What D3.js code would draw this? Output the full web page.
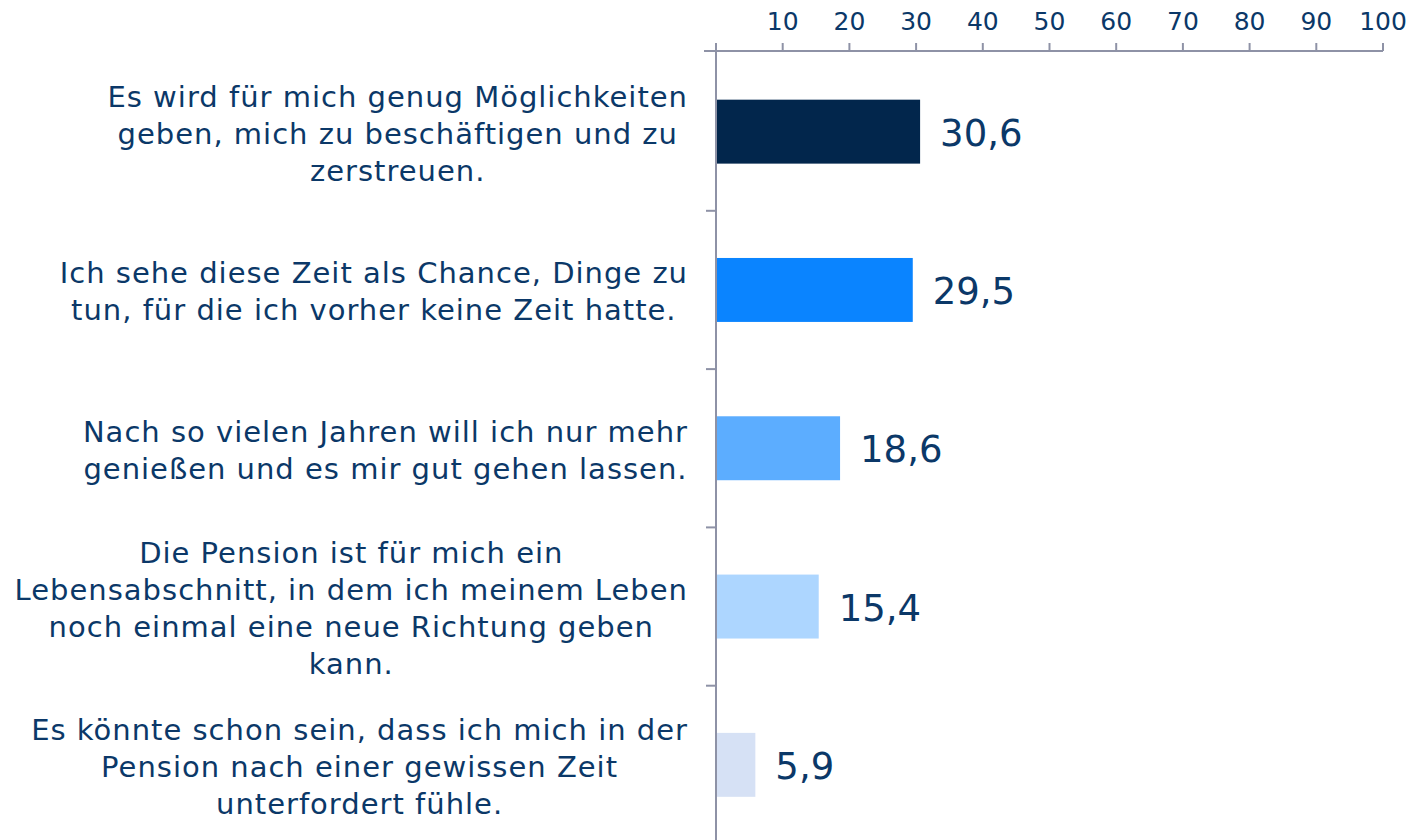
<!DOCTYPE html>
<html>
<head>
<meta charset="utf-8">
<script src="https://cdn.jsdelivr.net/npm/d3@7"></script>
<style>
  body { margin: 0; background: #fff; }
  svg { display: block; font-family: "DejaVu Sans", Verdana, sans-serif; }
</style>
</head>
<body>
<svg id="chart"></svg>
<script>
// data
const categories = [
  ["Es wird für mich genug Möglichkeiten", "geben, mich zu beschäftigen und zu", "zerstreuen."],
  ["Ich sehe diese Zeit als Chance, Dinge zu", "tun, für die ich vorher keine Zeit hatte."],
  ["Nach so vielen Jahren will ich nur mehr", "genießen und es mir gut gehen lassen."],
  ["Die Pension ist für mich ein", "Lebensabschnitt, in dem ich meinem Leben", "noch einmal eine neue Richtung geben", "kann."],
  ["Es könnte schon sein, dass ich mich in der", "Pension nach einer gewissen Zeit", "unterfordert fühle."]
]
const values = [30.6, 29.5, 18.6, 15.4, 5.9]
const valueLabels = ["30,6", "29,5", "18,6", "15,4", "5,9"]
const tickValues = [10, 20, 30, 40, 50, 60, 70, 80, 90, 100]
const barColors = ["#02264c", "#0a84ff", "#5cadff", "#add6ff", "#d6e1f5"]

const width = 1410
const height = 840
const textColor = "#0b3868"
const axisColor = "#8e92a6"

const svg = d3.select("#chart")
  .attr("width", width)
  .attr("height", height)

const x = d3.scaleLinear().domain([0, 100]).range([716, 1383])
const y = d3.scaleBand()
  .domain(d3.range(values.length))
  .range([52.5, 844])
  .paddingInner(0.596)
  .paddingOuter(0.298)

// top axis
svg.append("line")
  .attr("x1", 704).attr("x2", x(100))
  .attr("y1", 51).attr("y2", 51)
  .attr("stroke", axisColor).attr("stroke-width", 2)

svg.append("g")
  .selectAll("line")
  .data([0].concat(tickValues))
  .join("line")
    .attr("x1", d => x(d)).attr("x2", d => x(d))
    .attr("y1", 43).attr("y2", 51)
    .attr("stroke", axisColor).attr("stroke-width", 2)

svg.append("g")
  .selectAll("text")
  .data(tickValues)
  .join("text")
    .attr("x", d => x(d))
    .attr("y", 29.5)
    .attr("text-anchor", "middle")
    .attr("fill", textColor)
    .style("font-size", "25px")
    .text(d => d)

// left axis
svg.append("line")
  .attr("x1", 716).attr("x2", 716)
  .attr("y1", 51).attr("y2", height)
  .attr("stroke", axisColor).attr("stroke-width", 2)

const bandStep = y.step()
svg.append("g")
  .selectAll("line")
  .data(d3.range(1, values.length))
  .join("line")
    .attr("x1", 706).attr("x2", 716)
    .attr("y1", d => 52.5 + d * bandStep).attr("y2", d => 52.5 + d * bandStep)
    .attr("stroke", axisColor).attr("stroke-width", 2)

// bars
svg.append("g")
  .selectAll("rect")
  .data(values)
  .join("rect")
    .attr("x", x(0) + 1)
    .attr("y", (d, i) => y(i))
    .attr("width", d => x(d) - x(0) - 1)
    .attr("height", y.bandwidth())
    .attr("fill", (d, i) => barColors[i])

// value labels
svg.append("g")
  .selectAll("text")
  .data(values)
  .join("text")
    .attr("x", d => x(d) + 20)
    .attr("y", (d, i) => y(i) + y.bandwidth() / 2 + 14)
    .attr("fill", textColor)
    .style("font-size", "37px")
    .text((d, i) => valueLabels[i])

// category labels, centred per block, right edge at 688
const lineH = 37
const labelGroups = svg.append("g")
  .selectAll("text")
  .data(categories)
  .join("text")
    .attr("fill", textColor)
    .attr("text-anchor", "middle")
    .style("font-size", "29px")
    .style("letter-spacing", "1px")

labelGroups.each(function (lines, i) {
  const t = d3.select(this)
  const cy = y(i) + y.bandwidth() / 2
  const top = cy - (lines.length - 1) * lineH / 2 + 12
  lines.forEach((l, j) => {
    t.append("tspan").attr("y", top + j * lineH).text(l)
  })
  let maxW = 0
  t.selectAll("tspan").each(function () {
    maxW = Math.max(maxW, this.getComputedTextLength())
  })
  t.selectAll("tspan").attr("x", 688 - maxW / 2)
})
</script>
</body>
</html>
